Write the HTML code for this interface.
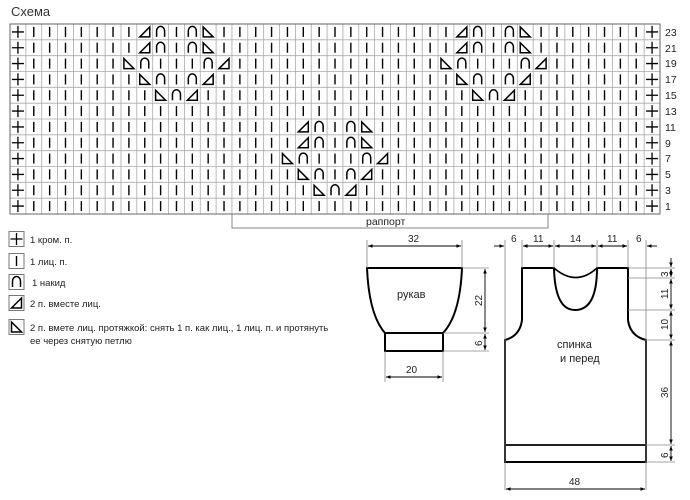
<!DOCTYPE html>
<html><head><meta charset="utf-8"><style>
html,body{margin:0;padding:0;background:#fff;}
svg{display:block;font-family:"Liberation Sans",sans-serif;}
</style></head><body>
<svg id="s" width="690" height="500" viewBox="0 0 690 500" xmlns="http://www.w3.org/2000/svg">
<defs>
<marker id="a" viewBox="0 0 10 10" refX="10" refY="5" markerWidth="5" markerHeight="5" orient="auto-start-reverse"><path d="M0,1 L10,5 L0,9 z" fill="#000"/></marker>
</defs>
<text x="11" y="16" font-size="13" fill="#333">Схема</text>
<g id="grid"></g>
<g font-size="10.5" fill="#222">
<text x="665" y="36">23</text><text x="665" y="52">21</text><text x="665" y="67">19</text>
<text x="665" y="83">17</text><text x="665" y="99">15</text><text x="665" y="115">13</text>
<text x="665" y="131">11</text><text x="665" y="147">9</text><text x="665" y="162">7</text>
<text x="665" y="178">5</text><text x="665" y="194">3</text><text x="665" y="210">1</text>
</g>
<path d="M232,214 V228 H548 V214" fill="none" stroke="#888" stroke-width="1"/>
<text x="366" y="225" font-size="10.5" fill="#222">раппорт</text>

<g id="legend"></g>
<g font-size="9.5" fill="#222">
<text x="30" y="243">1 кром. п.</text>
<text x="30" y="265">1 лиц. п.</text>
<text x="32" y="286">1 накид</text>
<text x="30" y="307">2 п. вместе лиц.</text>
<text x="30" y="331">2 п. вмете лиц. протяжкой: снять 1 п. как лиц., 1 лиц. п. и протянуть</text>
<text x="30" y="344">ее через снятую петлю</text>
</g>

<!-- sleeve -->
<g fill="none" stroke="#000">
<path d="M367,268 H462 Q460,315 443,333 H385 Q369,315 367,268 Z" stroke-width="2"/>
<rect x="385" y="333" width="58" height="18" stroke-width="2"/>
</g>
<g fill="none" stroke="#888" stroke-width="0.8">
<path d="M367,240 V268 M462,240 V268 M462,268 H489 M443,333 H489 M443,351 H489 M385,351 V382 M443,351 V382"/>
</g>
<g fill="none" stroke="#000" stroke-width="0.9">
<line x1="368" y1="246" x2="461" y2="246" marker-start="url(#a)" marker-end="url(#a)"/>
<line x1="485" y1="269" x2="485" y2="332" marker-start="url(#a)" marker-end="url(#a)"/>
<line x1="485" y1="334" x2="485" y2="350" marker-start="url(#a)" marker-end="url(#a)"/>
<line x1="386" y1="377" x2="442" y2="377" marker-start="url(#a)" marker-end="url(#a)"/>
</g>
<g font-size="10" fill="#222">
<text x="408" y="242">32</text>
<text x="406" y="373">20</text>
<text transform="translate(482,306) rotate(-90)">22</text>
<text transform="translate(482,346) rotate(-90)">6</text>
<text x="397" y="298" font-size="11">рукав</text>
</g>

<!-- body -->
<g fill="none" stroke="#000" stroke-width="2">
<path d="M505,462 V340 Q520,336 522,320 V268 H554 Q555,310 575,310 Q597,310 597,268 H628 V320 Q630,336 646,340 V462 Z"/>
<path d="M554,268 Q576,287 597,268" stroke-width="1.6"/>
<line x1="505" y1="445" x2="646" y2="445" stroke-width="1.8"/>
</g>
<g fill="none" stroke="#888" stroke-width="0.8">
<path d="M505,240 V490 M646,240 V490 M522,240 V268 M554,240 V268 M597,240 V268 M628,240 V268 M628,268 H675 M628,278 H675 M628,310 H675 M646,340 H675 M646,445 H675 M646,462 H675"/>
</g>
<g fill="none" stroke="#000" stroke-width="0.9">
<line x1="494" y1="246" x2="504" y2="246" marker-end="url(#a)"/>
<line x1="533" y1="246" x2="523" y2="246" marker-end="url(#a)"/>
<line x1="523" y1="246" x2="553" y2="246" marker-start="url(#a)" marker-end="url(#a)"/>
<line x1="555" y1="246" x2="596" y2="246" marker-start="url(#a)" marker-end="url(#a)"/>
<line x1="598" y1="246" x2="627" y2="246" marker-start="url(#a)" marker-end="url(#a)"/>
<line x1="617" y1="246" x2="627" y2="246" marker-end="url(#a)"/>
<line x1="657" y1="246" x2="647" y2="246" marker-end="url(#a)"/>
<line x1="671" y1="258" x2="671" y2="267" marker-end="url(#a)"/>
<line x1="671" y1="269" x2="671" y2="277" marker-start="url(#a)" marker-end="url(#a)"/>
<line x1="671" y1="279" x2="671" y2="309" marker-start="url(#a)" marker-end="url(#a)"/>
<line x1="671" y1="311" x2="671" y2="339" marker-start="url(#a)" marker-end="url(#a)"/>
<line x1="671" y1="341" x2="671" y2="444" marker-start="url(#a)" marker-end="url(#a)"/>
<line x1="671" y1="446" x2="671" y2="461" marker-start="url(#a)" marker-end="url(#a)"/>
<line x1="506" y1="489" x2="645" y2="489" marker-start="url(#a)" marker-end="url(#a)"/>
</g>
<g font-size="10" fill="#222">
<text x="511" y="242">6</text><text x="533" y="242">11</text><text x="570" y="242">14</text>
<text x="607" y="242">11</text><text x="636" y="242">6</text>
<text transform="translate(668,277) rotate(-90)">3</text>
<text transform="translate(668,299) rotate(-90)">11</text>
<text transform="translate(668,330) rotate(-90)">10</text>
<text transform="translate(668,398) rotate(-90)">36</text>
<text transform="translate(668,458) rotate(-90)">6</text>
<text x="569" y="485">48</text>
<text x="557" y="348" font-size="11">спинка</text>
<text x="560" y="362" font-size="11">и перед</text>
</g>
</svg>
<script>
(function(){
var NS="http://www.w3.org/2000/svg";
var g=document.getElementById('grid');
var X0=10,Y0=24,W=650/41,H=190/12;
var s='';
for(var c=0;c<=41;c++){var x=X0+c*W;s+='<line x1="'+x+'" y1="'+Y0+'" x2="'+x+'" y2="'+(Y0+190)+'" stroke="#aaa" stroke-width="0.8"/>';}
for(var r=0;r<=12;r++){var y=Y0+r*H;s+='<line x1="'+X0+'" y1="'+y+'" x2="'+(X0+650)+'" y2="'+y+'" stroke="#aaa" stroke-width="0.8"/>';}
s+='<rect x="'+X0+'" y="'+Y0+'" width="650" height="190" fill="none" stroke="#666" stroke-width="1"/>';
function sym(t,cx,cy){
 var o='';
 if(t=='+')o='<path d="M'+(cx-6)+','+cy+'H'+(cx+6)+'M'+cx+','+(cy-6)+'V'+(cy+6)+'" stroke="#000" stroke-width="1.3" fill="none"/>';
 else if(t=='|')o='<line x1="'+cx+'" y1="'+(cy-5)+'" x2="'+cx+'" y2="'+(cy+5)+'" stroke="#000" stroke-width="1.4"/>';
 else if(t=='n')o='<path d="M'+(cx-4)+','+(cy+5)+'V'+(cy-1)+'A4,4.5 0 0 1 '+(cx+4)+','+(cy-1)+'V'+(cy+5)+'" stroke="#000" stroke-width="1.5" fill="none"/>';
 else if(t=='L')o='<path d="M'+(cx-5)+','+(cy+5)+'L'+(cx+5)+','+(cy-5)+'V'+(cy+5)+'Z" stroke="#000" stroke-width="1.5" fill="none" stroke-linejoin="miter"/>';
 else if(t=='R')o='<path d="M'+(cx-5)+','+(cy-5)+'L'+(cx+5)+','+(cy+5)+'H'+(cx-5)+'Z" stroke="#000" stroke-width="1.5" fill="none"/>';
 return o;
}
var rows={
0:{8:'L',9:'n',11:'n',12:'R',28:'L',29:'n',31:'n',32:'R'},
1:{8:'L',9:'n',11:'n',12:'R',28:'L',29:'n',31:'n',32:'R'},
2:{7:'R',8:'n',12:'n',13:'L',27:'R',28:'n',32:'n',33:'L'},
3:{8:'R',9:'n',11:'n',12:'L',28:'R',29:'n',31:'n',32:'L'},
4:{9:'R',10:'n',11:'L',29:'R',30:'n',31:'L'},
5:{},
6:{18:'L',19:'n',21:'n',22:'R'},
7:{18:'L',19:'n',21:'n',22:'R'},
8:{17:'R',18:'n',22:'n',23:'L'},
9:{18:'R',19:'n',21:'n',22:'L'},
10:{19:'R',20:'n',21:'L'},
11:{}
};
for(var r=0;r<12;r++){for(var c=0;c<41;c++){
 var t=(c==0||c==40)?'+':(rows[r][c]||'|');
 s+=sym(t,X0+(c+0.5)*W,Y0+(r+0.5)*H);
}}
g.innerHTML=s;
var l=document.getElementById('legend');var ls='';
var ly=[239,261,282,303,327],lt=['+','|','n','L','R'];
for(var i=0;i<5;i++){ls+='<rect x="9" y="'+(ly[i]-7.5)+'" width="15" height="15" fill="none" stroke="#777" stroke-width="1"/>'+sym(lt[i],16.5,ly[i]);}
l.innerHTML=ls;
})();
</script>
</body></html>
